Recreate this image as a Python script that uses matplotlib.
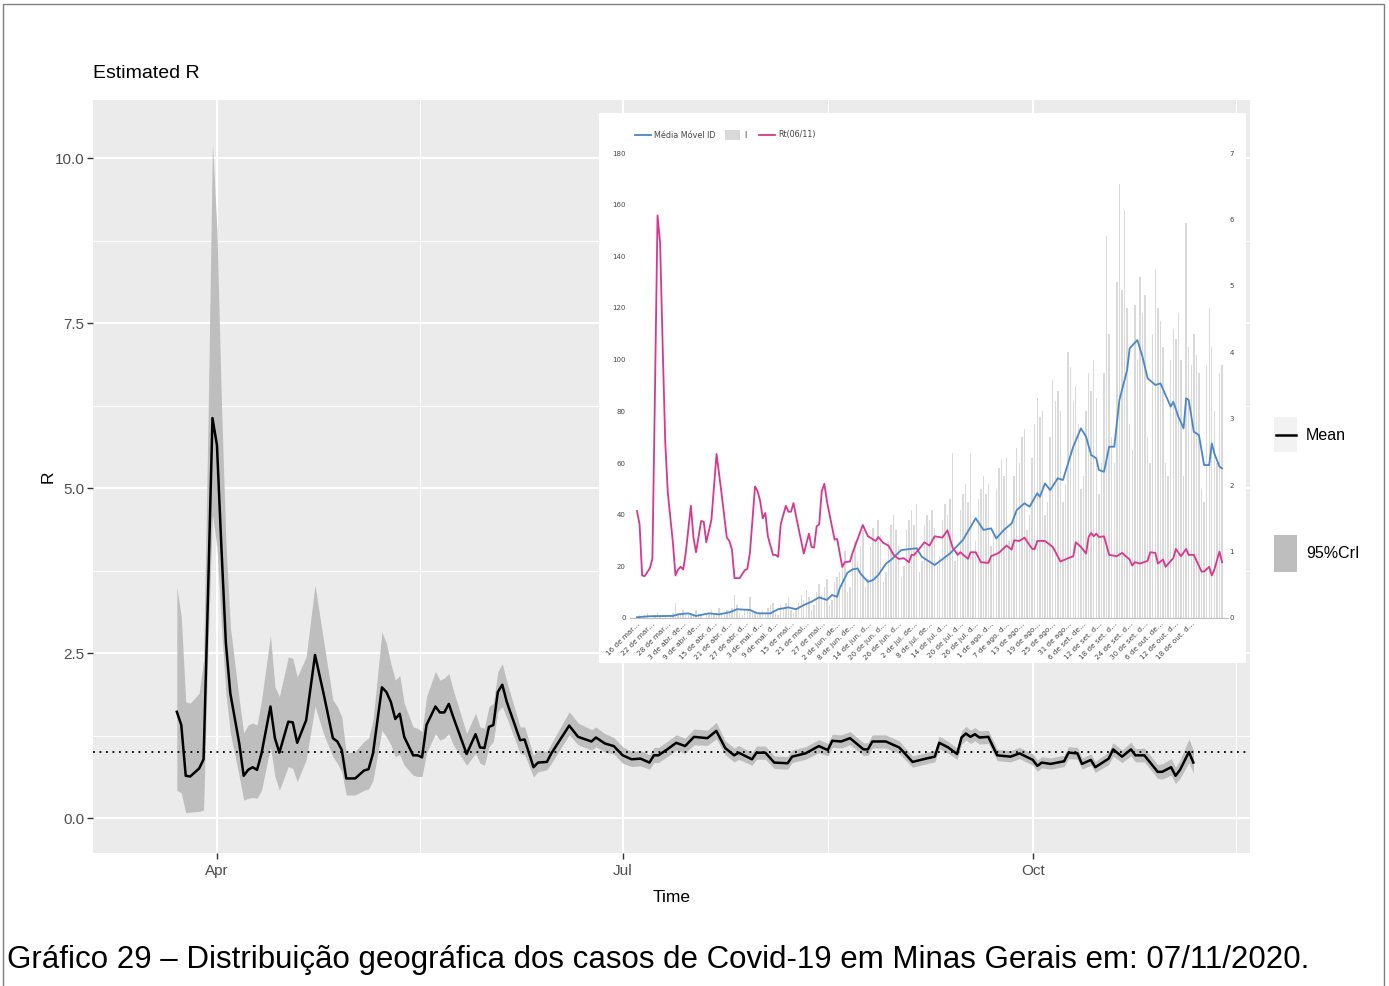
import numpy as np
import matplotlib
matplotlib.use("Agg")
import matplotlib.pyplot as plt
import matplotlib.dates as mdates
from matplotlib.patches import Rectangle
from matplotlib.lines import Line2D

# ── Data: estimated R (mean, 95% CrI) ──────────────────────────────────────
r_dates = np.array([
    "2020-03-23", "2020-03-24", "2020-03-25", "2020-03-26", "2020-03-28", "2020-03-29",
    "2020-03-30", "2020-03-31", "2020-04-01", "2020-04-02", "2020-04-03", "2020-04-04",
    "2020-04-06", "2020-04-07", "2020-04-08", "2020-04-09", "2020-04-10", "2020-04-11",
    "2020-04-13", "2020-04-14", "2020-04-15", "2020-04-17", "2020-04-18", "2020-04-19",
    "2020-04-21", "2020-04-23", "2020-04-25", "2020-04-27", "2020-04-28", "2020-04-29",
    "2020-04-30", "2020-05-02", "2020-05-04", "2020-05-05", "2020-05-06", "2020-05-08",
    "2020-05-09", "2020-05-10", "2020-05-11", "2020-05-12", "2020-05-13", "2020-05-15",
    "2020-05-16", "2020-05-17", "2020-05-18", "2020-05-20", "2020-05-21", "2020-05-22",
    "2020-05-23", "2020-05-24", "2020-05-27", "2020-05-29", "2020-05-30", "2020-05-31",
    "2020-06-01", "2020-06-02", "2020-06-03", "2020-06-04", "2020-06-05", "2020-06-08",
    "2020-06-09", "2020-06-11", "2020-06-12", "2020-06-14", "2020-06-15", "2020-06-19",
    "2020-06-21", "2020-06-24", "2020-06-25", "2020-06-27", "2020-06-29", "2020-07-01",
    "2020-07-03", "2020-07-05", "2020-07-07", "2020-07-08", "2020-07-09", "2020-07-11",
    "2020-07-13", "2020-07-15", "2020-07-17", "2020-07-20", "2020-07-22", "2020-07-24",
    "2020-07-26", "2020-07-27", "2020-07-30", "2020-07-31", "2020-08-02", "2020-08-04",
    "2020-08-07", "2020-08-08", "2020-08-11", "2020-08-14", "2020-08-16", "2020-08-17",
    "2020-08-19", "2020-08-21", "2020-08-24", "2020-08-25", "2020-08-26", "2020-08-29",
    "2020-09-01", "2020-09-02", "2020-09-04", "2020-09-07", "2020-09-09", "2020-09-10",
    "2020-09-12", "2020-09-14", "2020-09-15", "2020-09-16", "2020-09-17", "2020-09-18",
    "2020-09-19", "2020-09-21", "2020-09-23", "2020-09-26", "2020-09-28", "2020-10-01",
    "2020-10-02", "2020-10-03", "2020-10-05", "2020-10-08", "2020-10-09", "2020-10-11",
    "2020-10-12", "2020-10-14", "2020-10-15", "2020-10-18", "2020-10-19", "2020-10-21",
    "2020-10-23", "2020-10-24", "2020-10-26", "2020-10-29", "2020-10-30", "2020-11-01",
    "2020-11-02", "2020-11-03", "2020-11-05", "2020-11-06",
], dtype="datetime64[D]")

r_mean = [
    1.61, 1.41, 0.64, 0.63, 0.75, 0.89, 3.40, 6.06, 5.65, 4.10, 2.65, 1.89,
    1.13, 0.64, 0.73, 0.77, 0.73, 0.98, 1.69, 1.21, 0.99, 1.46, 1.45, 1.14,
    1.48, 2.47, 1.86, 1.21, 1.16, 1.03, 0.60, 0.60, 0.72, 0.74, 0.98, 1.98,
    1.91, 1.76, 1.50, 1.58, 1.23, 0.95, 0.95, 0.92, 1.41, 1.69, 1.60, 1.60,
    1.73, 1.53, 0.97, 1.27, 1.07, 1.06, 1.38, 1.41, 1.91, 2.02, 1.76, 1.18,
    1.19, 0.77, 0.84, 0.85, 0.98, 1.40, 1.23, 1.16, 1.22, 1.13, 1.09, 0.95,
    0.89, 0.90, 0.84, 0.95, 0.95, 1.04, 1.14, 1.09, 1.23, 1.21, 1.32, 1.06,
    0.95, 0.99, 0.89, 0.99, 0.99, 0.84, 0.83, 0.93, 0.98, 1.09, 1.03, 1.17,
    1.16, 1.21, 1.04, 1.04, 1.16, 1.16, 1.07, 1.00, 0.85, 0.90, 0.93, 1.14,
    1.07, 0.97, 1.22, 1.28, 1.23, 1.27, 1.22, 1.23, 0.95, 0.93, 0.98, 0.88,
    0.79, 0.84, 0.82, 0.86, 0.99, 0.98, 0.82, 0.88, 0.77, 0.90, 1.04, 0.93,
    1.04, 0.95, 0.95, 0.70, 0.70, 0.77, 0.64, 0.73, 1.00, 0.84,
]
r_lower = [
    0.42, 0.38, 0.08, 0.09, 0.10, 0.12, 2.60, 4.60, 4.10, 2.90, 1.90, 1.29,
    0.63, 0.27, 0.30, 0.31, 0.30, 0.42, 1.08, 0.63, 0.42, 0.78, 0.75, 0.55,
    0.88, 1.69, 1.26, 0.93, 0.83, 0.70, 0.35, 0.35, 0.42, 0.44, 0.57, 1.33,
    1.23, 1.11, 0.93, 0.96, 0.80, 0.65, 0.63, 0.63, 0.98, 1.28, 1.18, 1.21,
    1.28, 1.11, 0.80, 0.98, 0.83, 0.80, 1.08, 1.16, 1.61, 1.69, 1.52, 0.98,
    0.96, 0.62, 0.70, 0.73, 0.83, 1.26, 1.11, 1.03, 1.08, 1.00, 0.97, 0.83,
    0.78, 0.79, 0.74, 0.84, 0.84, 0.93, 1.03, 0.98, 1.11, 1.10, 1.20, 0.96,
    0.85, 0.89, 0.80, 0.89, 0.89, 0.75, 0.74, 0.84, 0.89, 0.99, 0.94, 1.07,
    1.06, 1.11, 0.95, 0.95, 1.06, 1.06, 0.98, 0.91, 0.77, 0.82, 0.85, 1.05,
    0.98, 0.89, 1.12, 1.18, 1.13, 1.17, 1.12, 1.13, 0.87, 0.85, 0.90, 0.80,
    0.71, 0.76, 0.74, 0.78, 0.90, 0.89, 0.74, 0.80, 0.69, 0.81, 0.94, 0.84,
    0.94, 0.85, 0.85, 0.60, 0.59, 0.65, 0.52, 0.60, 0.84, 0.68,
]
r_upper = [
    3.50, 3.05, 1.76, 1.74, 1.89, 2.39, 6.00, 10.22, 8.90, 6.30, 4.20, 2.90,
    1.79, 1.29, 1.41, 1.44, 1.41, 1.79, 2.77, 1.99, 1.84, 2.44, 2.42, 2.14,
    2.44, 3.53, 2.65, 1.79, 1.69, 1.53, 0.98, 1.01, 1.16, 1.21, 1.48, 2.82,
    2.65, 2.34, 2.09, 2.16, 1.74, 1.38, 1.36, 1.31, 1.84, 2.22, 2.09, 2.12,
    2.19, 1.94, 1.28, 1.59, 1.38, 1.36, 1.69, 1.74, 2.22, 2.34, 2.07, 1.38,
    1.38, 0.95, 1.03, 1.01, 1.13, 1.61, 1.44, 1.34, 1.38, 1.28, 1.22, 1.08,
    1.01, 1.02, 0.96, 1.07, 1.07, 1.16, 1.26, 1.21, 1.35, 1.33, 1.45, 1.17,
    1.06, 1.10, 0.99, 1.09, 1.09, 0.94, 0.93, 1.03, 1.08, 1.19, 1.13, 1.27,
    1.26, 1.31, 1.14, 1.14, 1.26, 1.26, 1.17, 1.09, 0.94, 0.99, 1.02, 1.24,
    1.16, 1.06, 1.32, 1.39, 1.33, 1.37, 1.32, 1.33, 1.04, 1.02, 1.07, 0.97,
    0.88, 0.93, 0.91, 0.95, 1.08, 1.07, 0.91, 0.97, 0.86, 1.00, 1.14, 1.03,
    1.15, 1.05, 1.06, 0.81, 0.82, 0.90, 0.77, 0.88, 1.20, 1.03,
]

# ── Data: inset (daily index from first day) ───────────────────────────────
inset_bars = [
    0, 1, 0, 1, 2, 0, 0,   1, 2, 1, 0, 1, 0, 1,   2, 6, 1, 2, 3, 1, 1,
    2, 1, 3, 2, 1, 0, 1,   2, 3, 1, 2, 4, 1, 1,   3, 2, 4, 9, 5, 2, 1,
    3, 4, 8, 3, 2, 1, 2,   3, 2, 4, 5, 6, 2, 1,   5, 4, 6, 8, 3, 2, 4,
    6, 9, 7, 11, 8, 3, 5,  10, 13, 9, 12, 15, 5, 7,  14, 16, 18, 20, 26, 10, 12,
    24, 30, 22, 28, 34, 12, 15,  28, 35, 30, 38, 32, 14, 18,  30, 36, 40, 34, 28, 16, 20,
    34, 38, 42, 36, 44, 18, 22,  36, 40, 38, 42, 35, 20, 24,  38, 44, 40, 46, 64, 22, 26,
    42, 48, 52, 45, 64, 25, 30,  46, 50, 55, 48, 52, 28, 32,  50, 58, 61, 55, 62, 30, 36,
    55, 66, 60, 70, 73, 34, 40,  62, 75, 85, 78, 80, 40, 45,  70, 92, 84, 88, 80, 45, 52,
    103, 97, 84, 90, 75, 50, 55,  80, 95, 88, 100, 85, 48, 60,  95, 148, 110, 70, 60, 130, 168,
    127, 158, 120, 75, 65, 121, 100,  132, 118, 125, 70, 60, 110, 135,
    120, 115, 105, 60, 55, 100, 112,  108, 118, 100, 55, 153, 105, 98,
    110, 102, 95, 50, 45, 98, 120,  105, 80, 60, 95, 98,
]
blue_idx = [0, 5, 14, 16, 20, 23, 28, 32, 36, 39, 44, 47, 52, 55, 59, 62, 65, 68, 71, 74,
            76, 78, 79, 82, 84, 86, 87, 90, 92, 94, 97, 99, 103, 109, 111, 116, 122, 127,
            132, 135, 138, 140, 143, 146, 148, 151, 153, 156, 157, 159, 161, 164, 166, 168,
            170, 173, 175, 177, 179, 180, 182, 184, 186, 188, 191, 192, 195, 197, 199, 202,
            204, 206, 208, 209, 211, 213, 214, 215, 217, 219, 221, 223, 224, 225, 227, 228]
blue_vals = [0.3, 0.7, 0.8, 1.4, 1.8, 0.8, 1.8, 1.4, 2.2, 3.4, 3.1, 1.8, 1.8, 3.4, 4.1, 3.4,
             5.0, 6.3, 8.0, 7.0, 8.9, 8.2, 11.5, 17.5, 18.8, 19.2, 17.3, 14.0, 14.7, 16.6,
             21.0, 22.5, 26.3, 27.0, 23.7, 20.5, 25.0, 30.2, 38.6, 34.1, 34.7, 30.8, 34.1,
             36.6, 41.8, 44.4, 43.1, 48.3, 46.9, 52.1, 49.5, 54.1, 53.4, 59.9, 66.3, 73.4,
             70.2, 63.1, 61.8, 57.3, 56.6, 66.3, 66.3, 84.4, 96.0, 104.4, 107.6, 101.1, 92.8,
             90.2, 90.8, 86.3, 81.8, 83.7, 77.9, 73.4, 85.0, 84.4, 72.1, 70.8, 59.2, 59.2,
             67.6, 63.7, 58.6, 57.9]
inset_labels = [
    "16 de mar…", "22 de mar…", "28 de mar…", "3 de abr. de…", "9 de abr. de…",
    "15 de abr. d…", "21 de abr. d…", "27 de abr. d…", "3 de mai. d…", "9 de mai. d…",
    "15 de mai…", "21 de mai…", "27 de mai…", "2 de jun. de…", "8 de jun. de…",
    "14 de jun. d…", "20 de jun. d…", "26 de jun. d…", "2 de jul. de…", "8 de jul. de…",
    "14 de jul. d…", "20 de jul. d…", "26 de jul. d…", "1 de ago. d…", "7 de ago. d…",
    "13 de ago…", "19 de ago…", "25 de ago…", "31 de ago…", "6 de set. de…",
    "12 de set. d…", "18 de set. d…", "24 de set. d…", "30 de set. d…", "6 de out. de…",
    "12 de out. d…", "18 de out. d…",
]

# ── Layout helpers (pixel coords, top-left origin) ─────────────────────────
W, H = 1389, 986
SANS = ["Liberation Sans", "DejaVu Sans"]


def box(x0, y0, x1, y1):
    return [x0 / W, 1 - y1 / H, (x1 - x0) / W, (y1 - y0) / H]


def fx(px):
    return px / W


def fy(py):
    return 1 - py / H


fig = plt.figure(figsize=(W / 100, H / 100), dpi=100)

# ── Main panel ─────────────────────────────────────────────────────────────
ax = fig.add_axes(box(93, 100, 1250, 853))
ax.set_facecolor("#EBEBEB")
for s in ax.spines.values():
    s.set_visible(False)

ax.fill_between(r_dates, r_lower, r_upper, color="#BEBEBE", lw=0, zorder=2)
ax.axhline(1.0, color="black", lw=1.3, ls=(0, (1, 2.6)), zorder=3)
ax.plot(r_dates, r_mean, color="black", lw=1.8, zorder=4)

apr1 = mdates.date2num(np.datetime64("2020-04-01"))
jul1 = mdates.date2num(np.datetime64("2020-07-01"))
oct1 = mdates.date2num(np.datetime64("2020-10-01"))
ax.set_xlim(apr1 - 27.8, apr1 + 231.7)
ax.set_ylim(-0.53, 10.88)
ax.set_xticks([apr1, jul1, oct1])
ax.set_xticklabels(["Apr", "Jul", "Oct"])
ax.set_xticks([apr1 + 45.5, jul1 + 46, oct1 + 45.5], minor=True)
ax.set_yticks([0, 2.5, 5, 7.5, 10])
ax.set_yticklabels(["0.0", "2.5", "5.0", "7.5", "10.0"])
ax.set_yticks([1.25, 3.75, 6.25, 8.75], minor=True)
ax.grid(which="major", color="white", lw=1.5, zorder=0)
ax.grid(which="minor", color="white", lw=0.7, zorder=0)
ax.set_axisbelow(True)
ax.tick_params(which="major", length=4, width=1, color="#333333",
               labelcolor="#4D4D4D", labelsize=11, pad=2)
ax.tick_params(axis="x", which="major", pad=4)
ax.tick_params(which="minor", length=0)
for lab in ax.get_xticklabels() + ax.get_yticklabels():
    lab.set_family(SANS)

fig.text(fx(93), fy(74), "Estimated R", fontsize=14, family=SANS, va="center", ha="left")
fig.text(fx(672), fy(898), "Time", fontsize=12.5, family=SANS, va="center", ha="center")
fig.text(fx(48), fy(477), "R", fontsize=12.5, family=SANS, va="center", ha="center",
         rotation=90)

# legend (ggplot style, on the right)
fig.add_artist(Rectangle((fx(1274), fy(452)), (1297 - 1274) / W, 35 / H,
                         transform=fig.transFigure, color="#F2F2F2", lw=0))
fig.add_artist(Line2D([fx(1276), fx(1296)], [fy(435), fy(435)],
                      transform=fig.transFigure, color="black", lw=1.8))
fig.text(fx(1306), fy(435), "Mean", fontsize=11.5, family=SANS, va="center")
fig.add_artist(Rectangle((fx(1274), fy(572)), (1297 - 1274) / W, 37 / H,
                         transform=fig.transFigure, color="#BEBEBE", lw=0))
fig.text(fx(1306), fy(553), "95%CrI", fontsize=11.5, family=SANS, va="center")

# ── Inset (pasted spreadsheet chart) ───────────────────────────────────────
bg = fig.add_axes(box(599, 113, 1246, 663))
bg.set_facecolor("white")
bg.set_xticks([])
bg.set_yticks([])
for s in bg.spines.values():
    s.set_visible(False)
bg.set_zorder(5)

PXDAY = 2.566
ins = fig.add_axes(box(630, 153, 1228, 618))
ins.set_zorder(6)
ins.patch.set_visible(False)
ins.set_xlim((630 - 637) / PXDAY, (1228 - 637) / PXDAY)
ins.set_ylim(0, 180)
bar_idx = np.arange(len(inset_bars))
ins.bar(bar_idx, inset_bars, width=0.55, color="#D9D9D9", lw=0, zorder=1)
ins.plot(blue_idx, blue_vals, color="#4A86C8", lw=1.3, zorder=3)
for s in ["top", "left", "right"]:
    ins.spines[s].set_visible(False)
ins.spines["bottom"].set_color("#BDBDBD")
ins.spines["bottom"].set_linewidth(0.8)
ins.set_yticks(range(0, 181, 20))
ins.tick_params(axis="y", length=0, labelsize=5, labelcolor="#444444", pad=3)
ins.set_xticks(range(0, 6 * len(inset_labels), 6))
ins.set_xticklabels(inset_labels, rotation=45, ha="right", rotation_mode="anchor",
                    fontsize=5.2, color="#444444")
ins.tick_params(axis="x", length=0, pad=2)

ins2 = ins.twinx()
ins2.set_zorder(7)
ins2.patch.set_visible(False)
pink_idx = (r_dates - r_dates[0]).astype(int)
ins2.plot(pink_idx, r_mean, color="#D6378F", lw=1.3)
ins2.set_ylim(0, 7)
ins2.set_yticks(range(0, 8))
ins2.tick_params(axis="y", length=0, labelsize=5, labelcolor="#444444", pad=1)
for s in ins2.spines.values():
    s.set_visible(False)

# inset legend
for (x0, x1), col in [((635, 651), "#4A86C8"), ((759, 775), "#D6378F")]:
    l = Line2D([fx(x0), fx(x1)], [fy(135), fy(135)], transform=fig.transFigure,
               color=col, lw=1.3)
    l.set_zorder(8)
    fig.add_artist(l)
sq = Rectangle((fx(725), fy(140)), 15 / W, 10 / H, transform=fig.transFigure,
               color="#D9D9D9", lw=0)
sq.set_zorder(8)
fig.add_artist(sq)
for x, t in [(654, "Média Móvel ID"), (744, "I"), (778, "Rt(06/11)")]:
    tx = fig.text(fx(x), fy(135), t, fontsize=5.8, color="#444444", va="center")
    tx.set_zorder(8)

# ── Page frame and caption ─────────────────────────────────────────────────
fig.add_artist(Rectangle((fx(3), fy(1000)), (1384 - 3) / W, (1000 - 4) / H,
                         transform=fig.transFigure, fill=False, ec="#808080", lw=1))
fig.text(fx(7), fy(960),
         "Gráfico 29 – Distribuição geográfica dos casos de Covid-19 em Minas Gerais em: 07/11/2020.",
         fontsize=22.5, family=SANS, va="center", ha="left")

fig.savefig("out.png", dpi=100)
